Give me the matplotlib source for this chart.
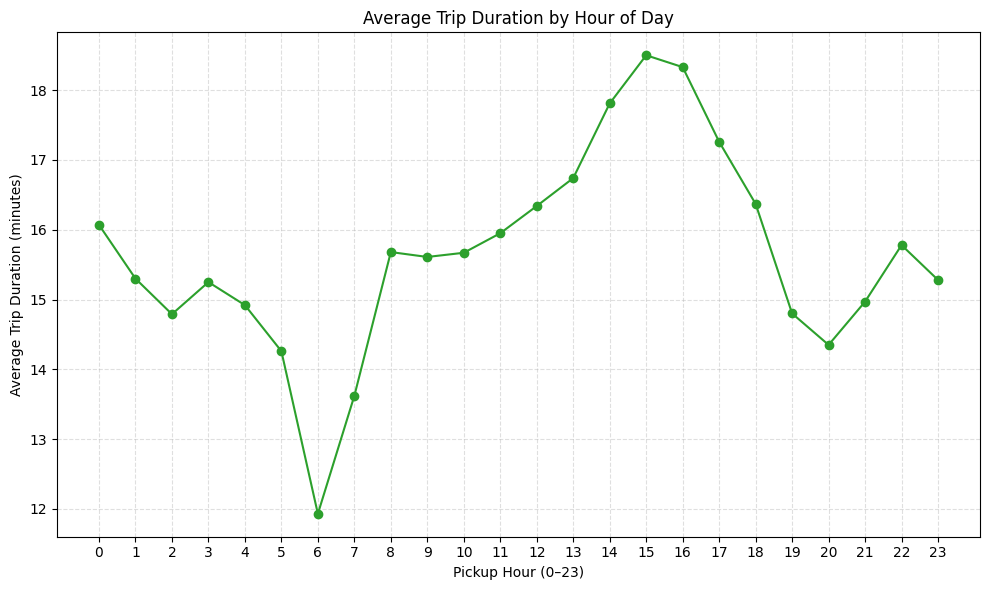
import numpy as np
import matplotlib.pyplot as plt

# Average trip duration per pickup hour
hours = list(range(24))
avg_duration = [
    16.07, 15.30, 14.79, 15.25, 14.92, 14.26,
    11.93, 13.62, 15.68, 15.61, 15.67, 15.95,
    16.34, 16.74, 17.81, 18.50, 18.33, 17.26,
    16.37, 14.80, 14.35, 14.97, 15.78, 15.28,
]

fig, ax = plt.subplots(figsize=(10, 6), dpi=100)

ax.plot(hours, avg_duration, marker="o", color="#2ca02c")

ax.set_title("Average Trip Duration by Hour of Day")
ax.set_xlabel("Pickup Hour (0\u201323)")
ax.set_ylabel("Average Trip Duration (minutes)")
ax.set_xticks(hours)
ax.grid(True, linestyle="--", alpha=0.4)

fig.tight_layout()
fig.savefig("out.png", dpi=100, bbox_inches="tight")
